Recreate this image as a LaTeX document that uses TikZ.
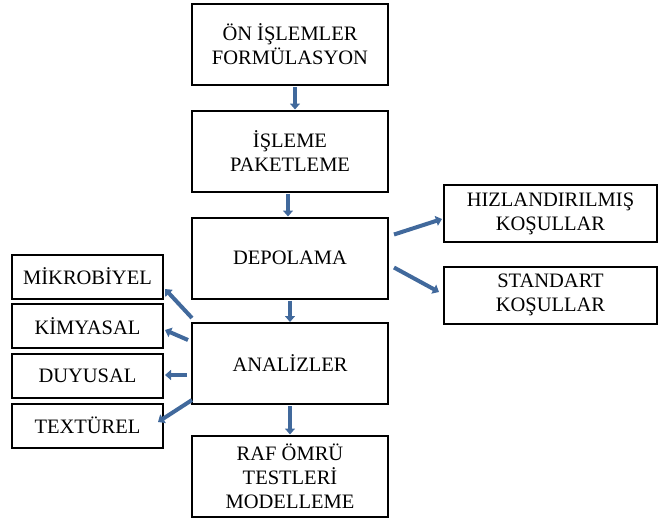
\documentclass[tikz,border=0pt]{standalone}
\usepackage{fontspec}
\setmainfont{Liberation Serif}
\usetikzlibrary{arrows.meta,calc}
\definecolor{arrowblue}{HTML}{41699C}
\tikzset{
  box/.style={draw=black, line width=2pt, fill=white, align=center, inner sep=0pt,
    font=\fontsize{20.5}{24}\selectfont, text=black},
  mainbox/.style={box, minimum width=196pt, minimum height=81pt},
  sidebox/.style={box, minimum width=213pt, minimum height=57pt},
  leftbox/.style={box, minimum width=151pt, minimum height=44pt},
  flow/.style={draw=arrowblue, line width=4pt, -{Triangle[length=6pt,width=10pt]}},
}
\begin{document}
\begin{tikzpicture}[x=1pt,y=1pt]
\useasboundingbox (0,0) rectangle (659,-520);
\node[mainbox] (b1) at (290,-44.5) {ÖN İŞLEMLER\\FORMÜLASYON};
\node[mainbox] (b2) at (290,-151) {İŞLEME\\PAKETLEME};
\node[mainbox] (b3) at (290,-258) {DEPOLAMA};
\node[mainbox] (b4) at (290,-363.5) {ANALİZLER};
\node[mainbox] (b5) at (290,-476) {RAF ÖMRÜ\\TESTLERİ\\MODELLEME};
\node[sidebox] (hiz) at (550.5,-213.5) {HIZLANDIRILMIŞ\\KOŞULLAR};
\node[sidebox] (std) at (550.5,-295) {STANDART\\KOŞULLAR};
\node[leftbox] (mik) at (87.5,-276.5) {MİKROBİYEL};
\node[leftbox] (kim) at (87.5,-326) {KİMYASAL};
\node[leftbox] (duy) at (87.5,-376) {DUYUSAL};
\node[leftbox] (tex) at (87.5,-425.5) {TEXTÜREL};
% vertical flow
\draw[flow] ($(b1.south)+(5,-1)$) -- ($(b2.north)+(5,0)$);
\draw[flow] ($(b2.south)+(-2,-1)$) -- ($(b3.north)+(-2,0)$);
\draw[flow] ($(b3.south)+(0,-1)$) -- (b4.north);
\draw[flow] ($(b4.south)+(0,-1)$) -- (b5.north);
% right
\draw[flow] ($(b3.north east)+(5,-18)$) -- ($(hiz.west)+(-1,-5.5)$);
\draw[flow] ($(b3.north east)+(5,-51)$) -- ($(std.west)+(-4,3)$);
% left
\draw[flow] ($(b4.north west)+(1,4)$) -- ($(mik.east)+(1,-12.5)$);
\draw[flow] ($(b4.west)+(-3,23.5)$) -- ($(kim.east)+(1,-4)$);
\draw[flow] ($(b4.west)+(-4,-11.5)$) -- ($(duy.east)+(1,1)$);
\draw[flow] ($(b4.west)+(1,-36.5)$) -- ($(tex.east)+(-6,3.5)$);
\end{tikzpicture}
\end{document}
